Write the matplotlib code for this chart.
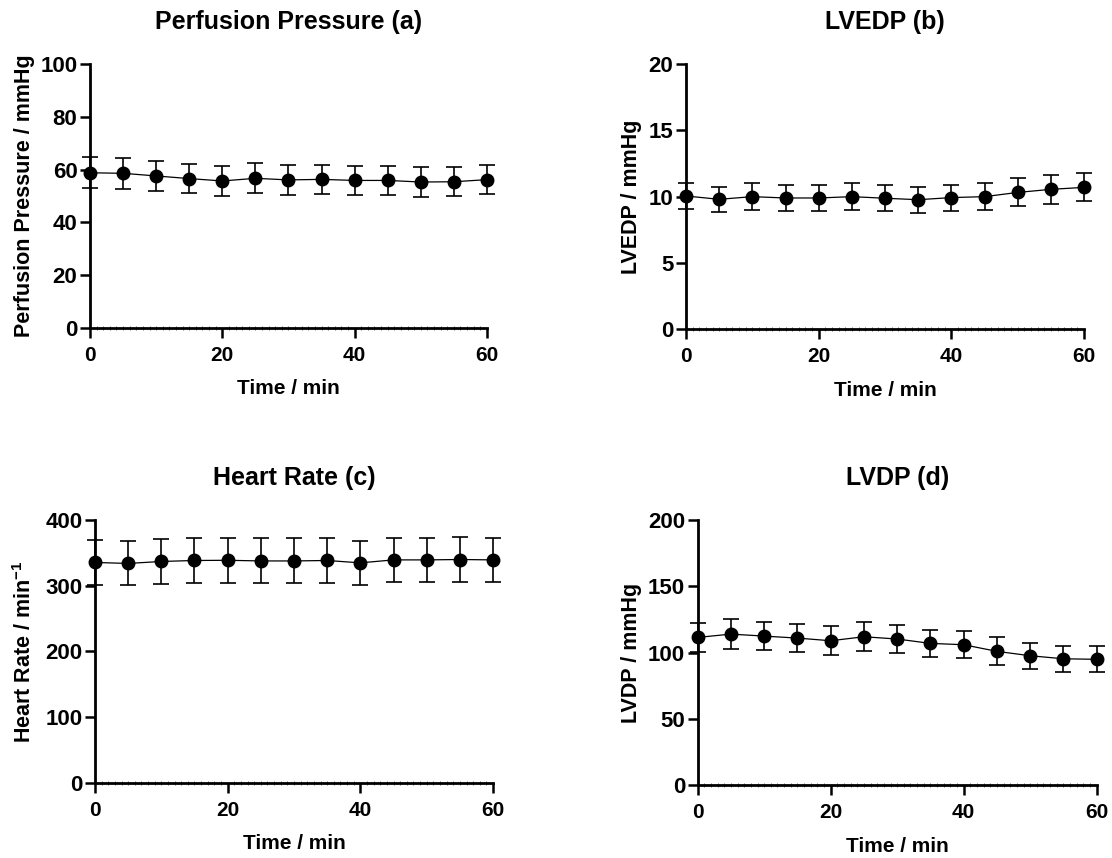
import matplotlib
matplotlib.use("Agg")
import matplotlib.pyplot as plt
from matplotlib.ticker import MultipleLocator

plt.rcParams["font.family"] = ["Liberation Sans", "DejaVu Sans"]
plt.rcParams["font.weight"] = "bold"
plt.rcParams["axes.titleweight"] = "bold"
plt.rcParams["axes.labelweight"] = "bold"
plt.rcParams["mathtext.default"] = "regular"

# Time points (min)
time = [0, 5, 10, 15, 20, 25, 30, 35, 40, 45, 50, 55, 60]

# Perfusion pressure (mmHg), mean and SD
pp_mean = [58.8, 58.6, 57.6, 56.6, 55.7, 56.7, 56.1, 56.3, 55.9, 55.9, 55.3, 55.4, 56.2]
pp_err = [5.8, 5.8, 5.7, 5.6, 5.6, 5.7, 5.6, 5.6, 5.6, 5.6, 5.5, 5.5, 5.6]

# LVEDP (mmHg)
lvedp_mean = [10.05, 9.8, 10.0, 9.9, 9.9, 10.0, 9.88, 9.77, 9.93, 10.0, 10.32, 10.55, 10.7]
lvedp_err = [1.0, 0.95, 1.0, 0.98, 0.98, 1.0, 0.98, 0.97, 0.98, 1.0, 1.05, 1.08, 1.05]

# Heart rate (min^-1)
hr_mean = [335.5, 334.0, 337.0, 338.5, 338.8, 337.8, 337.8, 338.5, 334.9, 339.4, 339.4, 340.0, 339.4]
hr_err = [34.0, 33.5, 34.0, 34.3, 34.3, 34.3, 34.3, 34.3, 33.9, 34.1, 34.1, 34.3, 34.0]

# LVDP (mmHg)
lvdp_mean = [111.5, 114.0, 112.5, 111.0, 109.0, 112.0, 110.3, 107.0, 106.0, 101.0, 97.7, 95.4, 95.0]
lvdp_err = [11.0, 11.5, 10.8, 10.5, 11.0, 11.0, 10.5, 10.3, 10.3, 10.5, 9.8, 10.0, 9.8]

panels = [
    dict(title="Perfusion Pressure (a)", ylabel="Perfusion Pressure / mmHg",
         mean=pp_mean, err=pp_err, ymax=100, ystep=20,
         rect=[0.0809, 0.6177, 0.357, 0.3077], ylx=-0.138),
    dict(title="LVEDP (b)", ylabel="LVEDP / mmHg",
         mean=lvedp_mean, err=lvedp_err, ymax=20, ystep=5,
         rect=[0.6169, 0.6162, 0.358, 0.3092], ylx=-0.11),
    dict(title="Heart Rate (c)", ylabel="Heart Rate / min$^{-1}$",
         mean=hr_mean, err=hr_err, ymax=400, ystep=100,
         rect=[0.0854, 0.0878, 0.358, 0.306], ylx=-0.148),
    dict(title="LVDP (d)", ylabel="LVDP / mmHg",
         mean=lvdp_mean, err=lvdp_err, ymax=200, ystep=50,
         rect=[0.6274, 0.0847, 0.3588, 0.3092], ylx=-0.14),
]

fig = plt.figure(figsize=(11.12, 8.58), dpi=100)

for p in panels:
    ax = fig.add_axes(p["rect"])
    ax.errorbar(time, p["mean"], yerr=p["err"], fmt="-o", color="black",
                lw=0.9, ms=9, elinewidth=1.2, capsize=5.5, capthick=1.2,
                clip_on=False, zorder=3)
    ax.set_xlim(0, 60)
    ax.set_ylim(0, p["ymax"])
    ax.xaxis.set_major_locator(MultipleLocator(20))
    ax.xaxis.set_minor_locator(MultipleLocator(1))
    ax.yaxis.set_major_locator(MultipleLocator(p["ystep"]))
    for side in ("top", "right"):
        ax.spines[side].set_visible(False)
    for side in ("left", "bottom"):
        ax.spines[side].set_linewidth(2.0)
    ax.tick_params(axis="both", which="major", direction="out", length=7,
                   width=1.8)
    ax.tick_params(axis="x", which="major", labelsize=15, pad=6)
    ax.tick_params(axis="y", which="major", labelsize=16, pad=2)
    ax.tick_params(axis="x", which="minor", direction="inout", length=2.2,
                   width=0.4)
    ax.set_title(p["title"], fontsize=18, pad=25)
    ax.set_xlabel("Time / min", fontsize=15)
    ax.set_ylabel(p["ylabel"], fontsize=15.5)
    ax.xaxis.set_label_coords(0.5, -0.195)
    ax.yaxis.set_label_coords(p["ylx"], 0.5)

fig.savefig("out.png", dpi=100)
